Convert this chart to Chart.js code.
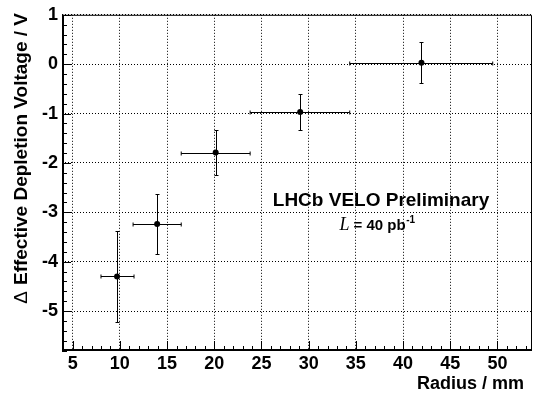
<!DOCTYPE html>
<html>
<head>
<meta charset="utf-8">
<script src="https://cdn.jsdelivr.net/npm/chart.js@4.4.1/dist/chart.umd.min.js"></script>
<style>
  html, body { margin: 0; padding: 0; background: #fff; }
  canvas { display: block; }
</style>
</head>
<body>
<canvas id="chart" width="535" height="396"></canvas>
<script>
// VELO depletion voltage vs radius

const radius = [9.7, 13.95, 20.15, 29.1, 41.95];
const radiusLow = [8.0, 11.4, 16.5, 23.8, 34.35];
const radiusHigh = [11.5, 16.5, 23.8, 34.35, 49.5];
const voltage = [-4.30, -3.24, -1.79, -0.97, 0.03];
const voltageErr = [0.93, 0.61, 0.46, 0.36, 0.41];

const xTicks = [5, 10, 15, 20, 25, 30, 35, 40, 45, 50];
const yTicks = [-5, -4, -3, -2, -1, 0, 1];

const X_MIN = 3.87, X_MAX = 53.66;
const Y_MIN = -5.81, Y_MAX = 1;

const FONT = '"Liberation Sans", Arial, Helvetica, sans-serif';

const points = radius.map((r, i) => ({ x: r, y: voltage[i] }));

// error bars, frame, inward ticks and labels
const rootStyle = {
    id: 'rootStyle',
    beforeDatasetsDraw(chart) {
        const ctx = chart.ctx;
        const xs = chart.scales.x, ys = chart.scales.y;
        ctx.save();
        ctx.strokeStyle = '#000';
        ctx.lineWidth = 1;
        ctx.beginPath();
        radius.forEach((r, i) => {
            const px = Math.round(xs.getPixelForValue(r)) + 0.5;
            const py = Math.round(ys.getPixelForValue(voltage[i])) + 0.5;
            const xl = xs.getPixelForValue(radiusLow[i]);
            const xh = xs.getPixelForValue(radiusHigh[i]);
            const yt = Math.round(ys.getPixelForValue(voltage[i] + voltageErr[i])) + 0.5;
            const yb = Math.round(ys.getPixelForValue(voltage[i] - voltageErr[i])) + 0.5;
            // horizontal
            ctx.moveTo(xl, py); ctx.lineTo(xh, py);
            ctx.moveTo(xl, py - 2); ctx.lineTo(xl, py + 2);
            ctx.moveTo(xh, py - 2); ctx.lineTo(xh, py + 2);
            // vertical
            ctx.moveTo(px, yt); ctx.lineTo(px, yb);
            ctx.moveTo(px - 2, yt); ctx.lineTo(px + 2, yt);
            ctx.moveTo(px - 2, yb); ctx.lineTo(px + 2, yb);
        });
        ctx.stroke();
        ctx.restore();
    },
    afterDraw(chart) {
        const ctx = chart.ctx;
        const { left, right, top, bottom } = chart.chartArea;
        const xs = chart.scales.x, ys = chart.scales.y;
        ctx.save();
        ctx.strokeStyle = '#000';

        // thin top / right frame
        ctx.lineWidth = 1;
        ctx.beginPath();
        ctx.moveTo(left, top + 0.5); ctx.lineTo(right - 0.5, top + 0.5);
        ctx.lineTo(right - 0.5, bottom);
        ctx.stroke();

        // inward ticks
        ctx.beginPath();
        for (let v = 4; v <= 53; v++) {
            const px = Math.round(xs.getPixelForValue(v)) + 0.5;
            const len = v % 5 === 0 ? 10 : 5;
            ctx.moveTo(px, bottom); ctx.lineTo(px, bottom - len);
        }
        for (let k = -29; k <= 5; k++) {
            const v = k / 5;
            const py = Math.round(ys.getPixelForValue(v)) + 0.5;
            const len = k % 5 === 0 ? 9 : 5;
            ctx.moveTo(left, py); ctx.lineTo(left + len, py);
        }
        ctx.stroke();

        // thick left / bottom axis lines
        ctx.lineWidth = 2;
        ctx.beginPath();
        ctx.moveTo(left + 1, top); ctx.lineTo(left + 1, bottom);
        ctx.moveTo(left, bottom - 1); ctx.lineTo(right, bottom - 1);
        ctx.stroke();

        ctx.fillStyle = '#000';

        // axis titles
        ctx.font = 'bold 18px ' + FONT;
        ctx.textAlign = 'right';
        ctx.textBaseline = 'alphabetic';
        ctx.fillText('Radius / mm', 524, 389);

        ctx.save();
        ctx.translate(27, 13);
        ctx.rotate(-Math.PI / 2);
        ctx.font = 'bold 19px ' + FONT;
        const main = 'Effective Depletion Voltage / V';
        ctx.fillText(main, 0, 0);
        const w = ctx.measureText(main).width;
        ctx.font = '19px ' + FONT;
        ctx.fillText('\u0394', -w - 6, 0);
        ctx.restore();

        // annotation
        ctx.textAlign = 'center';
        ctx.font = 'bold 19px ' + FONT;
        ctx.fillText('LHCb VELO Preliminary', 381, 206);

        ctx.textAlign = 'left';
        const partL = 'L', partEq = ' = 40 pb', partSup = '-1';
        const fL = 'italic 18px "Liberation Serif", "Times New Roman", serif';
        const fEq = 'bold 15px ' + FONT;
        const fSup = 'bold 10px ' + FONT;
        ctx.font = fL; const wL = ctx.measureText(partL).width;
        ctx.font = fEq; const wEq = ctx.measureText(partEq).width;
        ctx.font = fSup; const wSup = ctx.measureText(partSup).width;
        let x0 = 377 - (wL + wEq + wSup) / 2;
        ctx.font = fL; ctx.fillText(partL, x0, 230); x0 += wL;
        ctx.font = fEq; ctx.fillText(partEq, x0, 230); x0 += wEq;
        ctx.font = fSup; ctx.fillText(partSup, x0 + 0.5, 223);

        ctx.restore();
    }
};

new Chart(document.getElementById('chart'), {
    type: 'scatter',
    data: {
        datasets: [{
            label: 'dV',
            data: points,
            backgroundColor: '#000',
            borderColor: '#000',
            pointRadius: 3,
            pointBorderWidth: 0,
            pointHoverRadius: 3
        }]
    },
    options: {
        responsive: false,
        animation: false,
        devicePixelRatio: 1,
        layout: { padding: { left: 0, right: 2, top: 12, bottom: 0 } },
        plugins: {
            legend: { display: false },
            tooltip: { enabled: false }
        },
        scales: {
            x: {
                type: 'linear',
                min: X_MIN,
                max: X_MAX,
                afterBuildTicks: (scale) => { scale.ticks = xTicks.map(v => ({ value: v })); },
                afterFit: (scale) => { scale.height = 45; },
                grid: { color: '#000', lineWidth: 1, drawTicks: false },
                border: { display: false, dash: [1, 2] },
                ticks: {
                    color: '#000',
                    padding: 2,
                    maxRotation: 0,
                    autoSkip: false,
                    font: { family: FONT, size: 18, weight: 'bold' }
                }
            },
            y: {
                type: 'linear',
                min: Y_MIN,
                max: Y_MAX,
                afterBuildTicks: (scale) => { scale.ticks = yTicks.map(v => ({ value: v })); },
                afterFit: (scale) => { scale.width = 62; },
                grid: { color: '#000', lineWidth: 1, drawTicks: false },
                border: { display: false, dash: [1, 2] },
                ticks: {
                    color: '#000',
                    padding: 4,
                    autoSkip: false,
                    font: { family: FONT, size: 18, weight: 'bold' }
                }
            }
        }
    },
    plugins: [rootStyle]
});
</script>
</body>
</html>
